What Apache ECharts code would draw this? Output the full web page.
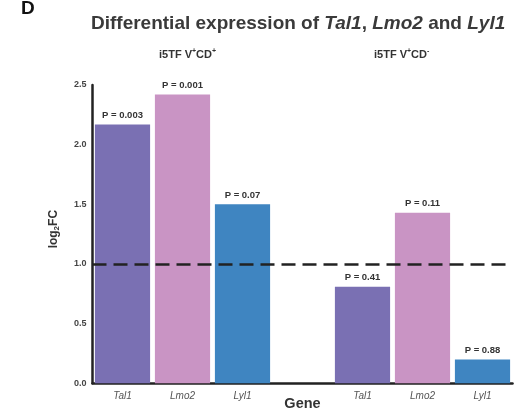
<!DOCTYPE html>
<html><head><meta charset="utf-8">
<script src="https://cdn.jsdelivr.net/npm/echarts@6/dist/echarts.min.js"></script>
<style>html,body{margin:0;padding:0;background:#fff}#c{width:527px;height:410px}</style>
</head><body><div id="c"></div>
<script>
const genes = ['Tal1', 'Lmo2', 'Lyl1'];
const groupPos = [2.17, 2.42, 1.50];   // i5TF V+CD+
const groupNeg = [0.81, 1.43, 0.20];   // i5TF V+CD-
const pPos = ['P = 0.003', 'P = 0.001', 'P = 0.07'];
const pNeg = ['P = 0.41', 'P = 0.11', 'P = 0.88'];
const yTicks = [0, 0.5, 1.0, 1.5, 2.0, 2.5];
const threshold = 1.0;
const geneColors = ['#7a70b3', '#c994c4', '#3f85c1'];

const catLabels = genes.concat(['']).concat(genes);
const cats = catLabels.map((_, i) => 'c' + i);
const values = groupPos.concat([null]).concat(groupNeg);
const pLabels = pPos.concat(['']).concat(pNeg);
const colors = geneColors.concat(['#fff']).concat(geneColors);

const chart = echarts.init(document.getElementById('c'));
chart.setOption({
  animation: false,
  backgroundColor: '#fff',
  textStyle: { fontFamily: 'Liberation Sans, Arial, sans-serif' },
  title: [
    { text: 'D', left: 16, top: -6, textStyle: { fontSize: 19, fontWeight: 'bold', color: '#111' } },
    {
      text: '{n|Differential expression of }{i|Tal1}{n|, }{i|Lmo2}{n| and }{i|Lyl1}',
      left: 86, top: 9,
      textStyle: { rich: {
        n: { fontSize: 19, fontWeight: 'bold', color: '#3a3a3a', fontFamily: 'Liberation Sans' },
        i: { fontSize: 19, fontWeight: 'bold', fontStyle: 'italic', color: '#3a3a3a', fontFamily: 'Liberation Sans' }
      } }
    },
    {
      text: '{n|i5TF V}{s|+}{n|CD}{s|+}',
      left: 154, top: 43,
      textStyle: { rich: {
        n: { fontSize: 11, fontWeight: 'bold', color: '#333' },
        s: { fontSize: 7, fontWeight: 'bold', color: '#333', verticalAlign: 'top', padding: [0, 0, 6, 0] }
      } }
    },
    {
      text: '{n|i5TF V}{s|+}{n|CD}{s|-}',
      left: 369, top: 43,
      textStyle: { rich: {
        n: { fontSize: 11, fontWeight: 'bold', color: '#333' },
        s: { fontSize: 7, fontWeight: 'bold', color: '#333', verticalAlign: 'top', padding: [0, 0, 6, 0] }
      } }
    }
  ],
  grid: { left: 92.5, right: 14.5, top: 85, bottom: 26.7, containLabel: false, outerBoundsMode: 'none' },
  xAxis: {
    type: 'category',
    data: cats,
    name: 'Gene',
    nameLocation: 'middle',
    nameGap: 13,
    nameMoveOverlap: false,
    nameTextStyle: { fontSize: 14.5, fontWeight: 'bold', color: '#333' },
    axisLine: { lineStyle: { color: '#222', width: 2.5 } },
    axisTick: { show: false },
    axisLabel: {
      formatter: (v) => catLabels[cats.indexOf(v)],
      fontSize: 10, fontStyle: 'italic', color: '#555', margin: 8
    }
  },
  yAxis: {
    type: 'value',
    min: yTicks[0], max: yTicks[yTicks.length - 1], interval: 0.5,
    name: '{a|log}{b|2}{a|FC}',
    nameLocation: 'middle',
    nameGap: 32,
    nameRotate: 90,
    nameMoveOverlap: false,
    nameTextStyle: { padding: [0, 0, 0, 10], rich: {
      a: { fontSize: 12, fontWeight: 'bold', color: '#333' },
      b: { fontSize: 8, fontWeight: 'bold', color: '#333', verticalAlign: 'bottom', padding: [6, 0, 0, 0] }
    } },
    axisLine: { show: true, lineStyle: { color: '#222', width: 2.5 } },
    axisTick: { show: false },
    splitLine: { show: false },
    axisLabel: {
      formatter: (v) => v.toFixed(1),
      fontSize: 9, fontWeight: 'bold', color: '#444', margin: 6
    }
  },
  series: [{
    type: 'bar',
    barCategoryGap: '8%',
    data: values.map((v, i) => ({ value: v, itemStyle: { color: colors[i] } })),
    label: {
      show: true, position: 'top', distance: 4,
      formatter: (p) => pLabels[p.dataIndex],
      fontSize: 9.5, fontWeight: 'bold', color: '#333'
    },
    markLine: {
      silent: true,
      symbol: 'none',
      label: { show: false },
      lineStyle: { color: '#222', width: 2.5, type: [14, 7] },
      data: [{ yAxis: threshold }]
    }
  }]
});
</script></body></html>
